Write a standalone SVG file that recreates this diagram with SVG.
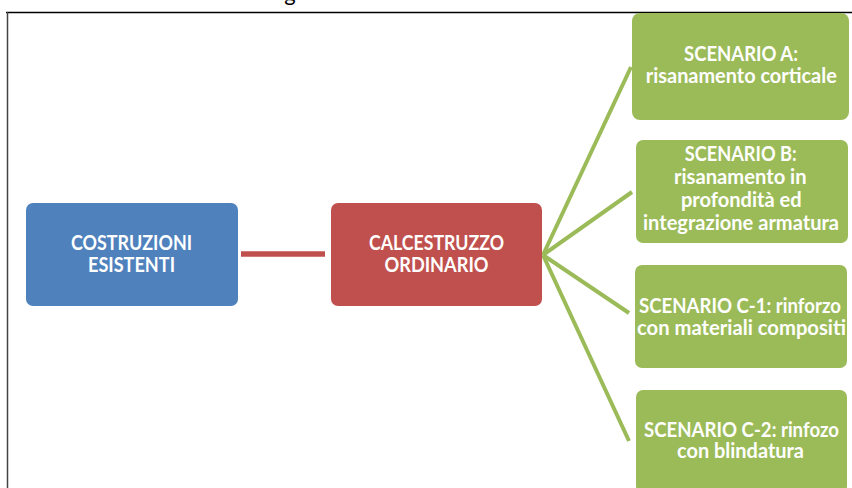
<svg xmlns="http://www.w3.org/2000/svg" width="852" height="488" viewBox="0 0 852 488">
<style>
.t{font-family:Lato,"Open Sans","Liberation Sans",sans-serif;font-weight:bold;font-size:20px;fill:#fff;text-anchor:middle}
.blue{fill:#4F81BD}
.red{fill:#C0504D}
.green{fill:#9BBB59}
.gl{stroke:#9BBB59;stroke-width:4;fill:none}
</style>
<rect width="852" height="488" fill="#fff"/>
<text x="290" y="1" style="font-family:Lato,'Liberation Sans',sans-serif;font-size:22px;fill:#000;text-anchor:middle">g</text>
<g id="frame">
<line x1="6" y1="12.5" x2="852" y2="12.5" stroke="#000" stroke-width="1.5"/>
<line x1="7.5" y1="12" x2="7.5" y2="488" stroke="#444" stroke-width="1.5"/>
</g>
<g id="connectors">
<line x1="241" y1="254" x2="325" y2="254" stroke="#C0504D" stroke-width="5.5"/>
<line class="gl" x1="543" y1="255" x2="631" y2="67"/>
<line class="gl" x1="543" y1="255" x2="632" y2="192"/>
<line class="gl" x1="543" y1="255" x2="629" y2="313"/>
<line class="gl" x1="543" y1="255" x2="629" y2="441"/>
</g>
<g id="costruzioni">
<rect class="blue" x="26" y="203" width="212" height="103" rx="7"/>
<text class="t" x="131.5" y="250" textLength="121" lengthAdjust="spacingAndGlyphs">COSTRUZIONI</text>
<text class="t" x="131.5" y="271.7" textLength="87" lengthAdjust="spacingAndGlyphs">ESISTENTI</text>
</g>
<g id="calcestruzzo">
<rect class="red" x="331" y="203" width="211" height="103" rx="7"/>
<text class="t" x="436.5" y="250" textLength="135" lengthAdjust="spacingAndGlyphs">CALCESTRUZZO</text>
<text class="t" x="436.5" y="271.7" textLength="104" lengthAdjust="spacingAndGlyphs">ORDINARIO</text>
</g>
<g id="scenarioA">
<rect class="green" x="632" y="13" width="217" height="107" rx="8"/>
<text class="t" x="741" y="61" textLength="114" lengthAdjust="spacingAndGlyphs">SCENARIO A:</text>
<text class="t" x="741.3" y="83.3" textLength="191" lengthAdjust="spacingAndGlyphs">risanamento corticale</text>
</g>
<g id="scenarioB">
<rect class="green" x="636" y="140" width="212" height="103" rx="7"/>
<text class="t" x="740.7" y="161" textLength="112" lengthAdjust="spacingAndGlyphs">SCENARIO B:</text>
<text class="t" x="740.3" y="184.3" textLength="132.7" lengthAdjust="spacingAndGlyphs">risanamento in</text>
<text class="t" x="741.3" y="206.7" textLength="120.7" lengthAdjust="spacingAndGlyphs">profondità ed</text>
<text class="t" x="741" y="230" textLength="196" lengthAdjust="spacingAndGlyphs">integrazione armatura</text>
</g>
<g id="scenarioC1">
<rect class="green" x="635" y="265" width="212" height="103" rx="7"/>
<text class="t" x="740" y="313.3" textLength="202" lengthAdjust="spacingAndGlyphs">SCENARIO C-1: rinforzo</text>
<text class="t" x="741.5" y="335" textLength="209" lengthAdjust="spacingAndGlyphs">con materiali compositi</text>
</g>
<g id="scenarioC2">
<rect class="green" x="636" y="390" width="211" height="103" rx="7"/>
<text class="t" x="741.5" y="436.7" textLength="195" lengthAdjust="spacingAndGlyphs">SCENARIO C-2: rinfozo</text>
<text class="t" x="740.5" y="458.3" textLength="127" lengthAdjust="spacingAndGlyphs">con blindatura</text>
</g>
</svg>
